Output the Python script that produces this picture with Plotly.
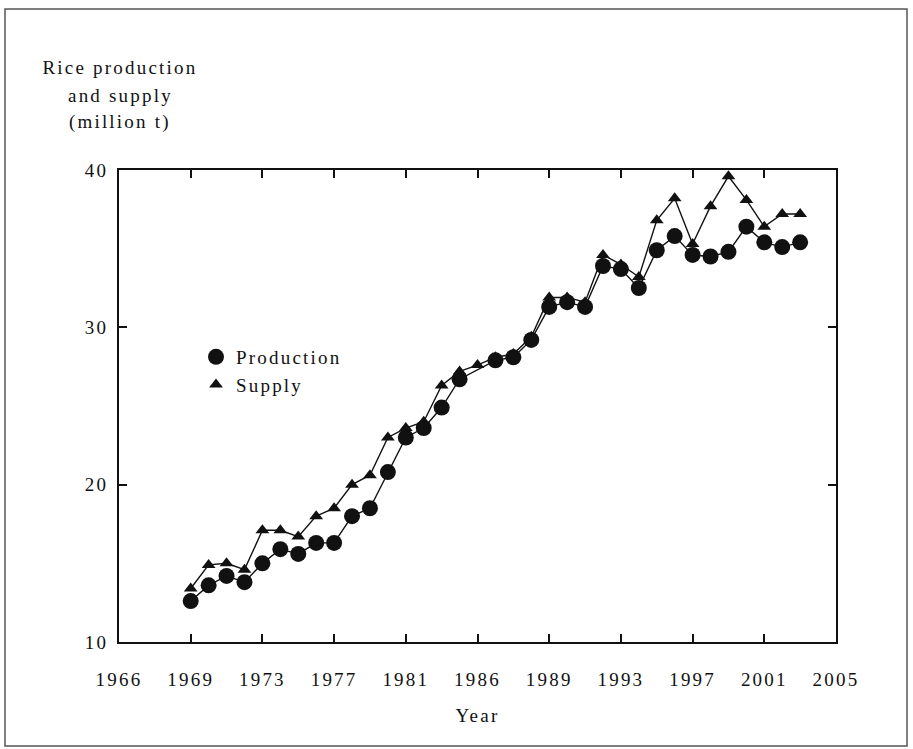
import plotly.graph_objects as go

# Rice production and supply, million tonnes, 1969-2003
years = list(range(1969, 2004))
production = [12.6, 13.6, 14.2, 13.8, 15.0, 15.9, 15.6, 16.3, 16.3, 18.0,
              18.5, 20.8, 23.0, 23.6, 24.9, 26.7, None, 27.9, 28.1, 29.2,
              31.3, 31.6, 31.3, 33.9, 33.7, 32.5, 34.9, 35.8, 34.6, 34.5,
              34.8, 36.4, 35.4, 35.1, 35.4]
supply = [13.4, 14.9, 15.0, 14.6, 17.1, 17.1, 16.7, 18.0, 18.5, 20.0,
          20.6, 23.0, 23.6, 24.0, 26.3, 27.2, 27.6, 28.1, 28.3, 29.4,
          31.9, 31.9, 31.6, 34.6, 34.0, 33.2, 36.8, 38.2, 35.3, 37.7,
          39.6, 38.1, 36.4, 37.2, 37.2]

x_tickvals = [1965, 1969, 1973, 1977, 1981, 1985, 1989, 1993, 1997, 2001, 2005]
x_ticktext = ["1966", "1969", "1973", "1977", "1981", "1986", "1989", "1993",
              "1997", "2001", "2005"]
y_tickvals = [10, 20, 30, 40]
y_title_lines = ["Rice production", "and supply", "(million t)"]

FONT = "Liberation Serif, Times New Roman, serif"
FS = 19
INK = "#111111"

fig = go.Figure()

# supply first so the production circles sit on top
fig.add_trace(go.Scatter(
    x=years, y=supply, mode="lines+markers", showlegend=False,
    line=dict(color=INK, width=1.4),
    marker=dict(symbol="triangle-up", size=12, color=INK),
))
fig.add_trace(go.Scatter(
    x=years, y=production, mode="lines+markers", showlegend=False,
    connectgaps=True,
    line=dict(color=INK, width=1.4),
    marker=dict(symbol="circle", size=16, color=INK),
))

# legend entries show the symbols only
fig.add_trace(go.Scatter(
    x=[None], y=[None], mode="markers", name="Production",
    marker=dict(symbol="circle", size=16, color=INK),
))
fig.add_trace(go.Scatter(
    x=[None], y=[None], mode="markers", name="Supply",
    marker=dict(symbol="triangle-up", size=12, color=INK),
))

W, H = 913, 749
L, R, T, B = 119, 77, 170, 107
pw, ph = W - L - R, H - T - B


def px_x(v):
    return (v - L) / pw


def px_y(v):
    return (H - B - v) / ph


axis_common = dict(
    showline=True, linecolor=INK, linewidth=2, mirror="ticks",
    ticks="inside", ticklen=8, tickwidth=2, tickcolor=INK,
    showgrid=False, zeroline=False,
    tickfont=dict(family=FONT, size=FS, color=INK),
)

annotations = [
    dict(text=line, xref="paper", yref="paper", x=px_x(120), y=px_y(yc),
         xanchor="center", yanchor="middle", showarrow=False,
         font=dict(family=FONT, size=FS, color=INK))
    for line, yc in zip(y_title_lines, [68, 95, 122])
]
annotations.append(
    dict(text="Year", xref="paper", yref="paper", x=px_x(478), y=px_y(715),
         xanchor="center", yanchor="middle", showarrow=False,
         font=dict(family=FONT, size=FS, color=INK))
)

fig.update_layout(
    width=W, height=H,
    margin=dict(l=L, r=R, t=T, b=B),
    paper_bgcolor="white", plot_bgcolor="white",
    font=dict(family=FONT, size=FS, color=INK),
    xaxis=dict(range=[1965, 2005], tickmode="array", tickvals=x_tickvals,
               ticktext=x_ticktext, ticklabelstandoff=19, **axis_common),
    yaxis=dict(range=[10, 40], tickmode="array", tickvals=y_tickvals,
               ticklabelstandoff=5, **axis_common),
    legend=dict(x=px_x(196), y=px_y(338), xanchor="left", yanchor="top",
                bgcolor="rgba(0,0,0,0)", font=dict(family=FONT, size=FS, color=INK),
                tracegroupgap=0, itemwidth=30),
    annotations=annotations,
    shapes=[
        dict(type="rect", xref="paper", yref="paper",
             x0=px_x(5), x1=px_x(907), y0=px_y(746), y1=px_y(9),
             line=dict(color="#555555", width=1.5), fillcolor="rgba(0,0,0,0)",
             layer="below"),
    ],
)

# widen the letter spacing of every text label in the chart and let the
# legend grow to the wider entries
spacing_js = """
var gd = document.getElementById('{plot_id}');
gd.querySelectorAll('text').forEach(function (t) {
    t.style.letterSpacing = '2.2px';
});
gd.querySelectorAll('.legend, .legend *').forEach(function (el) {
    el.removeAttribute('clip-path');
});
"""

fig.write_html("out.html", post_script=spacing_js)
